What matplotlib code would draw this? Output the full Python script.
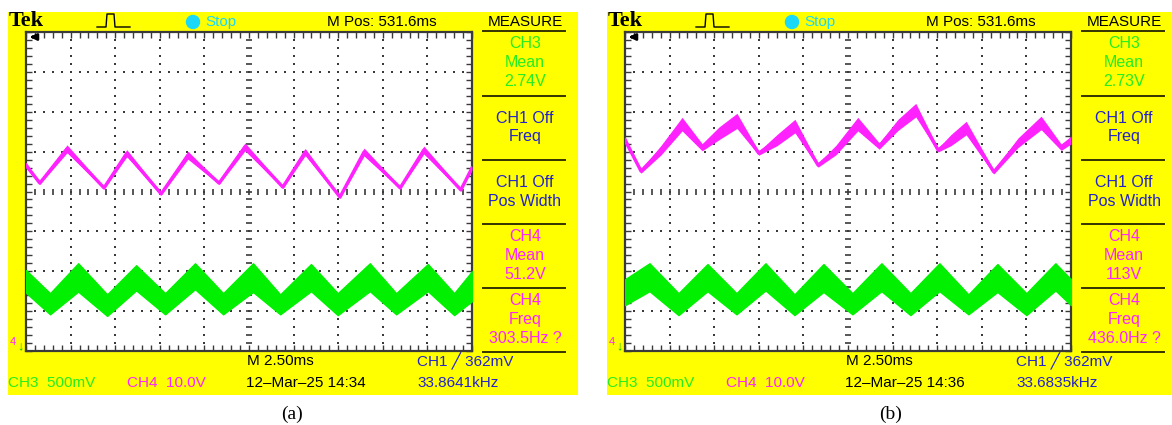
import numpy as np
import matplotlib.pyplot as plt
from matplotlib.patches import Rectangle, Circle

W, H = 1172, 425

YELLOW = '#ffff00'
GREEN = '#00f000'
TXT_GREEN = '#22ee22'
PINK = '#ff22ff'
BLUE = '#2222cc'
CYAN = '#1ad8f8'
GRID = '#3a3a3a'

# ---------------- traces (screen divisions: x 0..10, y -4..4 about centre) ----------------
# (a) CH4 - pink
pink_a_x = [0.00, 0.31, 0.92, 1.75, 2.26, 3.03, 3.63, 4.33, 4.91, 5.76, 6.26, 7.04, 7.58, 8.39, 8.92, 9.75, 10.0]
pink_a_y = [0.66, 0.21, 1.07, 0.09, 0.96, -0.06, 0.91, 0.21, 1.12, 0.11, 0.99, -0.14, 0.99, 0.09, 1.04, 0.04, 0.59]
pink_a_w = [0.07, 0.03, 0.10, 0.03, 0.09, 0.03, 0.10, 0.03, 0.10, 0.03, 0.09, 0.03, 0.10, 0.03, 0.10, 0.03, 0.05]
# (a) CH3 - green band
green_a_x = [0.00, 0.54, 1.17, 1.82, 2.47, 3.12, 3.79, 4.42, 5.09, 5.70, 6.39, 6.99, 7.71, 8.30, 9.01, 9.60, 10.0]
green_a_top = [-1.97, -2.55, -1.80, -2.58, -1.85, -2.55, -1.80, -2.55, -1.80, -2.58, -1.82, -2.55, -1.80, -2.55, -1.82, -2.55, -2.00]
green_a_bot = [-2.54, -3.08, -2.51, -3.12, -2.48, -3.08, -2.45, -3.08, -2.52, -3.08, -2.50, -3.10, -2.50, -3.08, -2.50, -3.10, -2.75]

# (b) CH4 - pink
pink_b_x = [0.00, 0.36, 0.81, 1.28, 1.73, 2.11, 2.51, 3.00, 3.41, 3.81, 4.33, 4.73, 5.22, 5.70, 6.12,
            6.52, 7.02, 7.31, 7.65, 8.27, 8.81, 9.33, 9.78, 10.0]
pink_b_y = [1.29, 0.51, 1.04, 1.69, 1.11, 1.46, 1.77, 0.96, 1.29, 1.64, 0.66, 1.04, 1.69, 1.14, 1.67,
            2.04, 1.04, 1.29, 1.59, 0.49, 1.22, 1.72, 1.11, 1.29]
pink_b_w = [0.09, 0.05, 0.12, 0.17, 0.09, 0.16, 0.19, 0.05, 0.14, 0.17, 0.05, 0.12, 0.17, 0.08, 0.14,
            0.17, 0.05, 0.14, 0.17, 0.05, 0.12, 0.17, 0.08, 0.10]
# (b) CH3 - green band
green_b_x = [0.00, 0.55, 1.20, 1.85, 2.50, 3.15, 3.80, 4.45, 5.10, 5.75, 6.40, 7.05, 7.70, 8.35, 9.00, 9.65, 10.0]
green_b_top = [-2.20, -1.80, -2.55, -1.82, -2.55, -1.80, -2.58, -1.82, -2.55, -1.80, -2.55, -1.80, -2.58, -1.82, -2.55, -1.80, -2.20]
green_b_bot = [-2.85, -2.50, -3.10, -2.50, -3.08, -2.48, -3.10, -2.52, -3.08, -2.50, -3.10, -2.50, -3.08, -2.52, -3.10, -2.48, -2.85]

# ---------------- readouts ----------------
mpos = 'M Pos: 531.6ms'
measure_a = [(['CH3', 'Mean', '2.74V'], TXT_GREEN), (['CH1 Off', 'Freq'], BLUE), (['CH1 Off', 'Pos Width'], BLUE),
             (['CH4', 'Mean', '51.2V'], PINK), (['CH4', 'Freq', '303.5Hz ?'], PINK)]
measure_b = [(['CH3', 'Mean', '2.73V'], TXT_GREEN), (['CH1 Off', 'Freq'], BLUE), (['CH1 Off', 'Pos Width'], BLUE),
             (['CH4', 'Mean', '113V'], PINK), (['CH4', 'Freq', '436.0Hz ?'], PINK)]
stamp_a = '12\u2013Mar\u201325 14:34'
stamp_b = '12\u2013Mar\u201325 14:36'
trig_freq_a = '33.8641kHz'
trig_freq_b = '33.6835kHz'

FONT = ['Liberation Sans', 'DejaVu Sans']
SERIF = ['Liberation Serif', 'DejaVu Serif']

fig = plt.figure(figsize=(W / 100, H / 100), dpi=100)
bg = fig.add_axes([0, 0, 1, 1])
bg.set_xlim(0, W)
bg.set_ylim(H, 0)
bg.axis('off')


def txt(ax, x, y, s, color='black', size=11, ha='left', **kw):
    ax.text(x, y, s, color=color, fontsize=size, ha=ha, va='center', family=kw.pop('family', FONT), **kw)


def draw_panel(x0, label, px, py, pw, gx, gtop, gbot, measure, stamp, tfreq):
    bg.add_patch(Rectangle((x0 + 8, 12), 570, 383, color=YELLOW, lw=0))
    # top bar
    txt(bg, x0 + 9, 21, 'Tek', size=16, weight='bold', family=SERIF)
    bg.plot([x0 + 97, x0 + 106, x0 + 107, x0 + 114, x0 + 115, x0 + 130],
            [27, 27, 14, 14, 27, 27], color='black', lw=1)
    bg.add_patch(Circle((x0 + 193, 22), 6.5, color=CYAN))
    txt(bg, x0 + 205, 22, 'Stop', color=CYAN)
    txt(bg, x0 + 327, 22, mpos)
    txt(bg, x0 + 525, 22, 'MEASURE', ha='center')
    # measurement menu
    dividers = [31, 96, 160, 224, 288, 352]
    for d in dividers:
        bg.plot([x0 + 483, x0 + 565], [d, d], color='#333300', lw=1.4)
    for (lines, col), d in zip(measure, dividers[:-1]):
        offs = [12.5, 31.5, 50.5] if len(lines) == 3 else [22, 41]
        for s, o in zip(lines, offs):
            txt(bg, x0 + 525, d + o, s, color=col, size=11.5, ha='center')
    # bottom bar
    txt(bg, x0 + 247, 361, 'M 2.50ms')
    txt(bg, x0 + 417, 361, 'CH1 \u2571 362mV', color=BLUE)
    txt(bg, x0 + 8, 383, 'CH3  500mV', color=TXT_GREEN)
    txt(bg, x0 + 127, 383, 'CH4  10.0V', color=PINK)
    txt(bg, x0 + 246, 383, stamp)
    txt(bg, x0 + 417, 383, tfreq, color=BLUE)
    txt(bg, x0 + 292, 414, label, size=14, ha='center', family=SERIF)

    # graticule
    ax = fig.add_axes([(x0 + 26) / W, 1 - 351 / H, 446 / W, 319 / H])
    ax.set_xlim(0, 10)
    ax.set_ylim(-4, 4)
    ax.set_facecolor('white')
    for sp in ax.spines.values():
        sp.set_color(GRID)
        sp.set_linewidth(1.6)
    ax.set_xticks(np.arange(0, 10.01, 0.2))
    ax.set_yticks(np.arange(-4, 4.01, 0.2))
    ax.tick_params(direction='in', length=4, width=1, color=GRID, top=True, right=True,
                   labelbottom=False, labelleft=False)
    sub_y = np.arange(-4, 4.01, 0.2)
    sub_x = np.arange(0, 10.01, 0.2)
    for k in range(1, 10):
        if k == 5:
            ax.plot(np.full_like(sub_y, k), sub_y, ls='none', marker='_', ms=4, mew=1.2, color=GRID)
        else:
            ax.plot(np.full_like(sub_y, k), sub_y, ls='none', marker='s', ms=1.5, mew=0, color=GRID)
    for k in range(-3, 4):
        if k == 0:
            ax.plot(sub_x, np.full_like(sub_x, k), ls='none', marker='|', ms=4, mew=1.2, color=GRID)
        else:
            ax.plot(sub_x, np.full_like(sub_x, k), ls='none', marker='s', ms=1.5, mew=0, color=GRID)

    px, py, pw = np.array(px), np.array(py), np.array(pw)
    ax.fill_between(gx, gbot, gtop, color=GREEN, lw=1.0, edgecolor=GREEN, zorder=3)
    ax.fill_between(px, py - pw, py + pw, color=PINK, lw=0, zorder=4)
    ax.plot(px, py, color=PINK, lw=2.4, zorder=4)


draw_panel(0, '(a)', pink_a_x, pink_a_y, pink_a_w, green_a_x, green_a_top, green_a_bot,
           measure_a, stamp_a, trig_freq_a)
draw_panel(599, '(b)', pink_b_x, pink_b_y, pink_b_w, green_b_x, green_b_top, green_b_bot,
           measure_b, stamp_b, trig_freq_b)

# small screen markers drawn above the graticules
top = fig.add_axes([0, 0, 1, 1])
top.set_xlim(0, W)
top.set_ylim(H, 0)
top.axis('off')
for x0 in (0, 599):
    top.annotate('', xy=(x0 + 27, 37), xytext=(x0 + 37, 37),
                 arrowprops=dict(arrowstyle='-|>', color='black', lw=2, mutation_scale=9))
    txt(top, x0 + 10, 342, '4', color=PINK, size=8)
    txt(top, x0 + 20, 346, '\u2193', color='#00c000', size=9, weight='bold', ha='center')

fig.savefig('out.png', dpi=100)
